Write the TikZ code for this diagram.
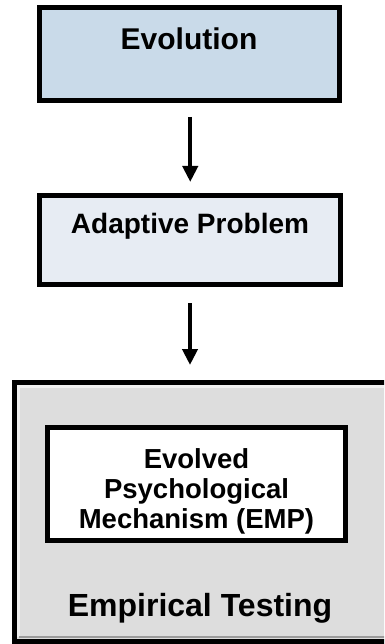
\documentclass[tikz,border=0pt]{standalone}
\usepackage{fontspec}
\setmainfont{Liberation Sans}
\usetikzlibrary{arrows.meta}
\definecolor{evofill}{RGB}{201,218,233}
\definecolor{apfill}{RGB}{231,236,243}
\definecolor{bigfill}{RGB}{221,221,221}
\tikzset{
  box/.style={draw=black, line width=5pt, inner sep=0pt, outer sep=0pt, anchor=north west},
  lbl/.style={font=\bfseries\fontsize{#1}{#1}\selectfont, anchor=base, inner sep=0pt},
  arr/.style={line width=4pt, -{Triangle[width=15pt,length=16pt]}}
}
\begin{document}
\begin{tikzpicture}[x=1pt,y=-1pt]
\useasboundingbox (0,0) rectangle (384,644);
\clip (0,0) rectangle (384,644);
% boxes
\node[box, fill=evofill, minimum width=300.5pt, minimum height=93.5pt] (evo) at (39,7.5) {};
\node[box, fill=apfill, minimum width=301pt, minimum height=89pt] (ap) at (39.5,195.5) {};
\node[box, fill=bigfill, minimum width=375pt, minimum height=258.5pt] (big) at (14.5,382.5) {};
% bevel
\draw[white!55!bigfill, line width=2.5pt] (18.5,637) -- (18.5,386.5) -- (390,386.5);
\draw[black!30!bigfill, line width=2.5pt] (18.5,637) -- (390,637);
\node[box, fill=white, line width=4.5pt, minimum width=298pt, minimum height=113pt] (emp) at (47.5,427.5) {};
% texts
\node[lbl=30] (evot) at (189,49.3) {Evolution};
\node[lbl=28] (apt) at (190,233.3) {Adaptive Problem};
\node[lbl=27.5] (empt1) at (196.5,468.3) {Evolved};
\node[lbl=27.5] (empt2) at (196.5,498.3) {Psychological};
\node[lbl=27.5] (empt3) at (196.5,528.3) {Mechanism (EMP)};
\node[lbl=32] (bigt) at (200,616) {Empirical Testing};
% arrows
\draw[arr, shorten <=16pt, shorten >=13.5pt] ([xshift=1pt]evo.south) -- ([xshift=1pt]evo.south |- ap.north);
\draw[arr, shorten <=18.5pt, shorten >=17.5pt] (ap.south) -- (ap.south |- big.north);
\end{tikzpicture}
\end{document}
